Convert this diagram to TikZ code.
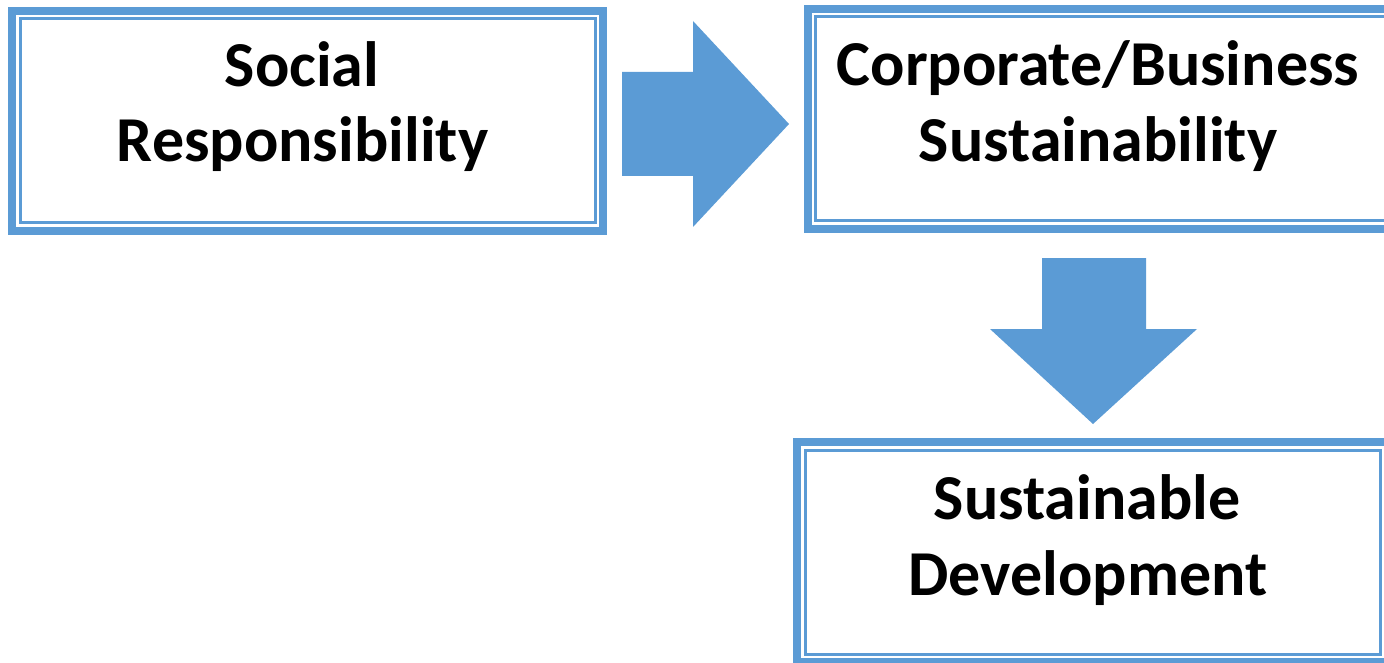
\documentclass[tikz,border=0pt]{standalone}
\usepackage{fontspec}
\setmainfont{Carlito}
\definecolor{officeblue}{HTML}{5B9BD5}
\tikzset{
  outerline/.style={draw=officeblue, line width=8pt},
  innerline/.style={draw=officeblue, line width=3pt},
  boxtext/.style={font=\bfseries\fontsize{64}{75}\selectfont, anchor=base, inner sep=0pt, text=black},
  blockarrow/.style={fill=officeblue, draw=none}
}
\begin{document}
\begin{tikzpicture}[x=1pt,y=-1pt]
\useasboundingbox (0,0) rectangle (1384,663);
\clip (0,0) rectangle (1384,663);
% Box 1
\draw[outerline] (12,11) rectangle (603,231);
\draw[innerline] (20.5,18.5) rectangle (595.5,222.5);
\node[boxtext] (t1a) at (302,87) {Social};
\node[boxtext] (t1b) at (302.5,162) {Responsibility};
% Box 2
\draw[outerline] (808,9) rectangle (1396,229);
\draw[innerline] (815.5,16.5) rectangle (1388,221);
\node[boxtext] (t2a) at (1098,86) {Corporate/Business};
\node[boxtext] (t2b) at (1098,162) {Sustainability};
% Box 3
\draw[outerline] (797,442) rectangle (1388.5,662);
\draw[innerline] (805,450.5) rectangle (1380.5,654);
\node[boxtext] (t3a) at (1087,519) {Sustainable};
\node[boxtext] (t3b) at (1088,595) {Development};
% Right block arrow
\fill[blockarrow] (622,72) -- (693,72) -- (693,21) -- (789,124) -- (693,227) -- (693,176) -- (622,176) -- cycle;
% Down block arrow
\fill[blockarrow] (1042,258) -- (1146,258) -- (1146,329) -- (1197,329) -- (1093,424) -- (990,329) -- (1042,329) -- cycle;
\end{tikzpicture}
\end{document}
